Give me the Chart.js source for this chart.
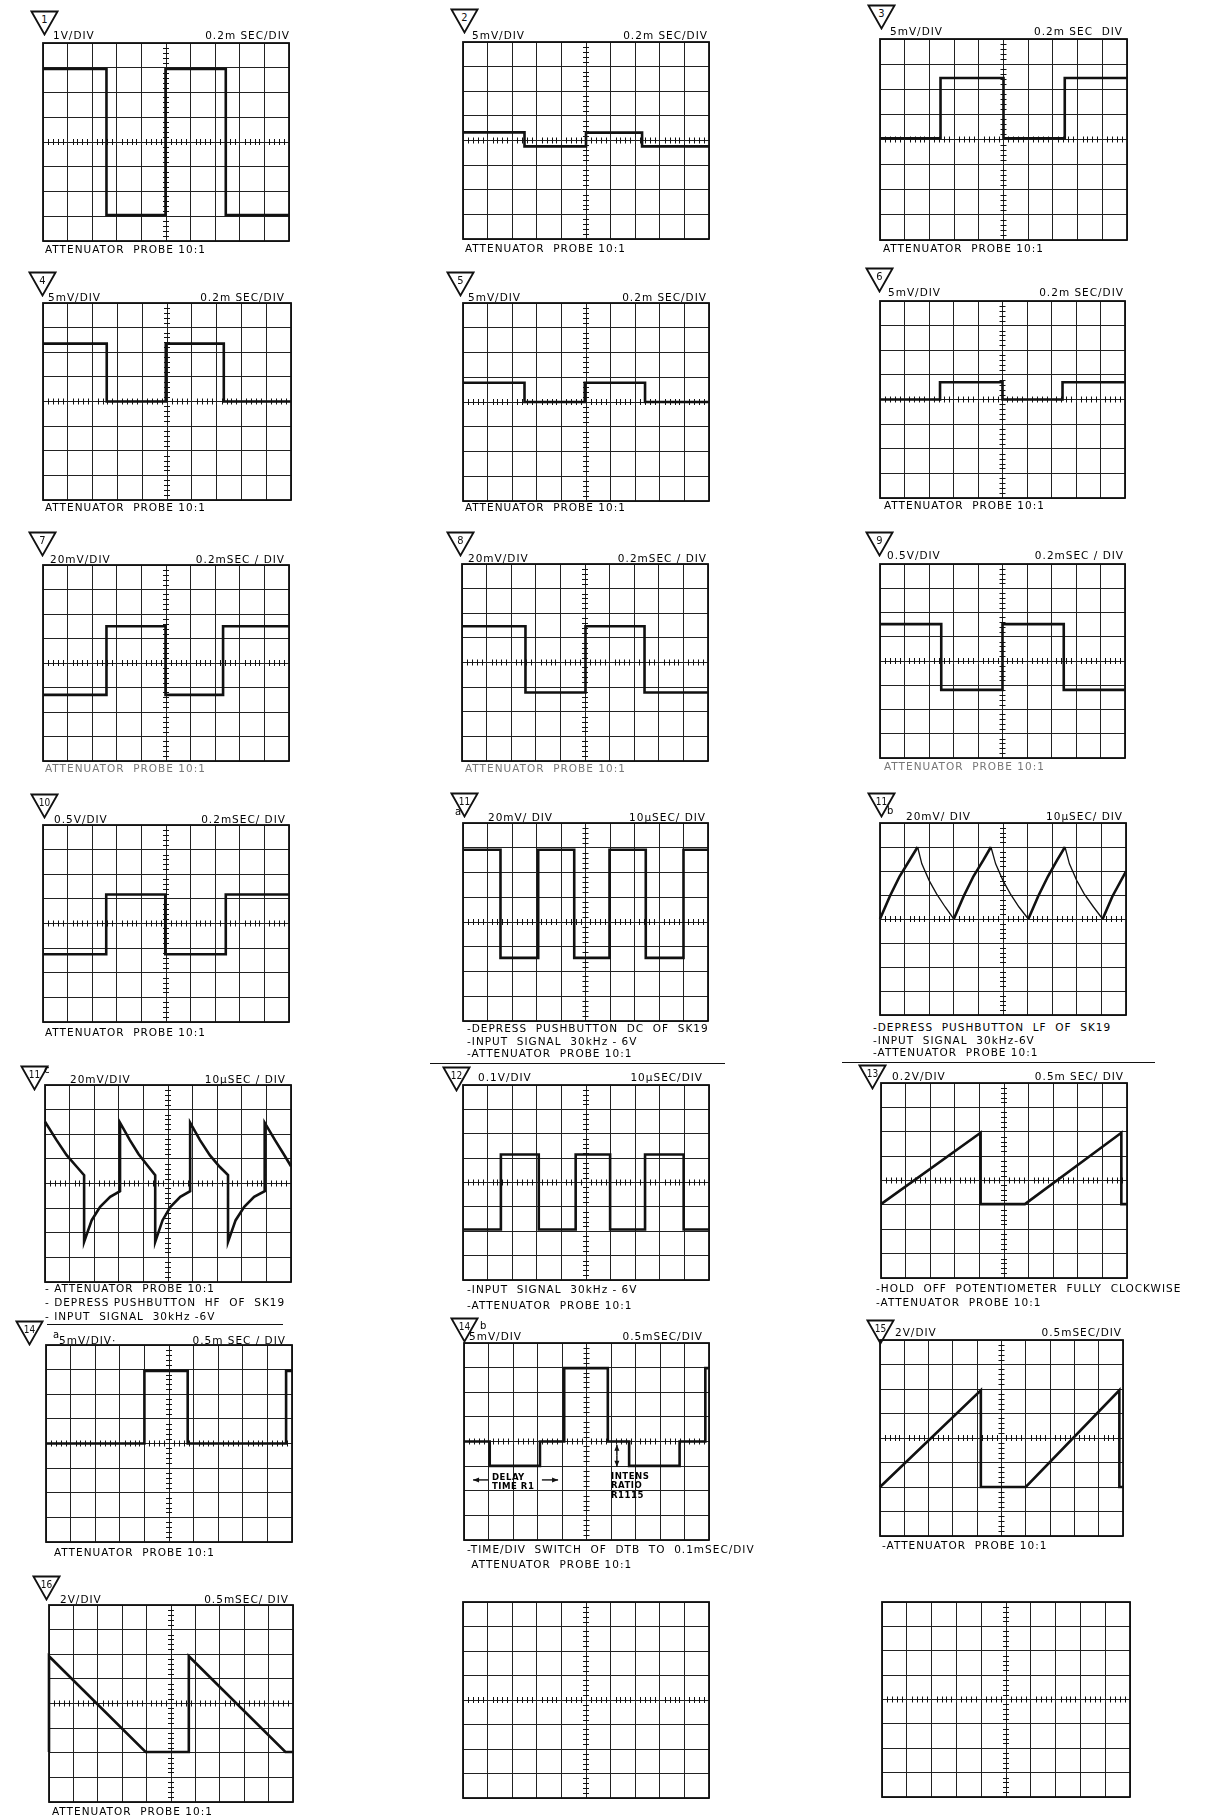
<!DOCTYPE html>
<html>
<head>
<meta charset="utf-8">
<script src="https://cdn.jsdelivr.net/npm/chart.js"></script>
<style>
body { margin: 0; background: #fff; width: 1211px; height: 1816px; position: relative; overflow: hidden;
       font-family: "DejaVu Sans", sans-serif; color: #000; }
.t { position: absolute; white-space: pre; font-size: 10.5px; line-height: 12px; }
.h { letter-spacing: 1px; }
.c { letter-spacing: 1px; }
.fade { color: #777; }
.note { font-family: "DejaVu Sans Condensed", "DejaVu Sans", sans-serif; font-size: 9.5px; line-height: 9px; letter-spacing: 0.5px; font-weight: bold; }
.sub { font-size: 10px; }
canvas { position: absolute; }
svg { position: absolute; }
.rule { position: absolute; height: 0; border-top: 1.4px solid #111; }
</style>
</head>
<body>
<script>
// traces: time in divisions (0..10), voltage in divisions (-4..4)
const p1T = [0, 2.58, 2.58, 4.98, 4.98, 7.43, 7.43, 10];
const p1V = [2.95, 2.95, -2.95, -2.95, 2.95, 2.95, -2.95, -2.95];
const p2T = [0, 2.5, 2.5, 5.0, 5.0, 7.28, 7.28, 10];
const p2V = [0.33, 0.33, -0.24, -0.24, 0.32, 0.32, -0.24, -0.24];
const p3T = [0, 2.45, 2.45, 5.0, 5.0, 7.48, 7.48, 10];
const p3V = [0.05, 0.05, 2.45, 2.45, 0.05, 0.05, 2.45, 2.45];
const p4T = [0, 2.57, 2.57, 4.95, 4.95, 7.29, 7.29, 10];
const p4V = [2.35, 2.35, 0, 0, 2.35, 2.35, 0, 0];
const p5T = [0, 2.5, 2.5, 4.95, 4.95, 7.4, 7.4, 10];
const p5V = [0.78, 0.78, 0, 0, 0.78, 0.78, 0, 0];
const p6T = [0, 2.45, 2.45, 5.0, 5.0, 7.45, 7.45, 10];
const p6V = [0, 0, 0.7, 0.7, 0, 0, 0.7, 0.7];
const p7T = [0, 2.58, 2.58, 4.98, 4.98, 7.32, 7.32, 10];
const p7V = [-1.3, -1.3, 1.5, 1.5, -1.3, -1.3, 1.5, 1.5];
const p8T = [0, 2.58, 2.58, 5.02, 5.02, 7.42, 7.42, 10];
const p8V = [1.47, 1.47, -1.22, -1.22, 1.47, 1.47, -1.22, -1.22];
const p9T = [0, 2.5, 2.5, 5.0, 5.0, 7.5, 7.5, 10];
const p9V = [1.52, 1.52, -1.19, -1.19, 1.52, 1.52, -1.19, -1.19];
const p10T = [0, 2.57, 2.57, 4.97, 4.97, 7.43, 7.43, 10];
const p10V = [-1.25, -1.25, 1.18, 1.18, -1.25, -1.25, 1.18, 1.18];
const p11aT = [0, 1.53, 1.53, 3.07, 3.07, 4.54, 4.54, 5.98, 5.98, 7.46, 7.46, 9.0, 9.0, 10];
const p11aV = [2.92, 2.92, -1.45, -1.45, 2.92, 2.92, -1.45, -1.45, 2.92, 2.92, -1.45, -1.45, 2.92, 2.92];
// 11b: fast charge (thick) and discharge (thin), null breaks the line
const p11bRiseT = [0, 0.4, 0.8, 1.2, 1.53, 1.53, 3.0, 3.4, 3.8, 4.2, 4.51, 4.51, 6.03, 6.43, 6.83, 7.2, 7.52, 7.52, 9.05, 9.45, 10];
const p11bRiseV = [0, 0.95, 1.78, 2.45, 3.0, null, 0, 0.95, 1.78, 2.45, 3.0, null, 0, 0.95, 1.78, 2.45, 3.0, null, 0, 0.95, 1.98];
const p11bFallT = [1.53, 1.7, 2.0, 2.3, 2.65, 3.0, 3.0, 4.51, 4.7, 5.0, 5.3, 5.65, 6.03, 6.03, 7.52, 7.7, 8.0, 8.3, 8.68, 9.05];
const p11bFallV = [3.0, 2.3, 1.6, 1.05, 0.5, 0, null, 3.0, 2.3, 1.6, 1.05, 0.5, 0, null, 3.0, 2.3, 1.6, 1.05, 0.5, 0];
const p11cT = [0, 0.47, 0.88, 1.29, 1.59, 1.59, 1.9, 2.24, 2.65, 3.05, 3.05, 3.45, 3.8, 4.15, 4.48, 4.48, 4.78, 5.1, 5.5, 5.9,
               5.9, 6.3, 6.7, 7.1, 7.44, 7.44, 7.75, 8.1, 8.5, 8.93, 8.93, 9.35, 9.7, 10];
const p11cV = [2.51, 1.76, 1.15, 0.68, 0.34, -2.37, -1.49, -0.95, -0.54, -0.31, 2.47, 1.76, 1.2, 0.75, 0.34, -2.37, -1.49, -0.95, -0.54, -0.31,
               2.47, 1.76, 1.15, 0.68, 0.34, -2.37, -1.49, -0.95, -0.54, -0.31, 2.47, 1.76, 1.2, 0.7];
const p12T = [0, 1.54, 1.54, 3.08, 3.08, 4.58, 4.58, 5.98, 5.98, 7.4, 7.4, 8.97, 8.97, 10];
const p12V = [-1.93, -1.93, 1.15, 1.15, -1.93, -1.93, 1.15, 1.15, -1.93, -1.93, 1.15, 1.15, -1.93, -1.93];
const p13T = [0, 4.05, 4.05, 5.85, 9.77, 9.77, 10];
const p13V = [-0.97, 1.96, -0.97, -0.97, 1.96, -0.97, -0.97];
const p14aT = [0, 4.0, 4.0, 5.76, 5.76, 9.76, 9.76, 10];
const p14aV = [0, 0, 2.95, 2.95, 0, 0, 2.95, 2.95];
const p14bT = [0, 1.05, 1.05, 3.1, 3.1, 4.09, 4.09, 5.87, 5.87, 6.74, 6.74, 8.8, 8.8, 9.85, 9.85, 10];
const p14bV = [0, 0, -0.99, -0.99, 0, 0, 2.98, 2.98, 0, 0, -0.99, -0.99, 0, 0, 2.98, 2.98];
const p15T = [0, 4.15, 4.15, 6.0, 9.85, 9.85, 10];
const p15V = [-2.0, 1.95, -2.0, -2.0, 1.95, -2.0, -2.0];
const p16T = [0, 0, 3.96, 5.73, 5.73, 9.69, 10];
const p16V = [-1.97, 1.92, -1.97, -1.97, 1.92, -1.97, -1.97];

// badge numbers and texts, one per panel (last two panels are empty graticules)
const badgeNums = ['1', '2', '3', '4', '5', '6', '7', '8', '9', '10', '11', '11', '11', '12', '13', '14', '14', '15', '16', '', ''];
const badgeSubs = ['', '', '', '', '', '', '', '', '', '', 'a', 'b', 'c', '', '', 'a', 'b', '', '', '', ''];
const voltsLabels = ['1V/DIV', '5mV/DIV', '5mV/DIV', '5mV/DIV', '5mV/DIV', '5mV/DIV', '20mV/DIV', '20mV/DIV', '0.5V/DIV', '0.5V/DIV',
                     '20mV/ DIV', '20mV/ DIV', '20mV/DIV', '0.1V/DIV', '0.2V/DIV', '5mV/DIV·', '5mV/DIV', '2V/DIV', '2V/DIV', '', ''];
const timeLabels = ['0.2m SEC/DIV', '0.2m SEC/DIV', '0.2m SEC  DIV', '0.2m SEC/DIV', '0.2m SEC/DIV', '0.2m SEC/DIV', '0.2mSEC / DIV',
                    '0.2mSEC / DIV', '0.2mSEC / DIV', '0.2mSEC/ DIV', '10µSEC/ DIV', '10µSEC/ DIV', '10µSEC / DIV', '10µSEC/DIV',
                    '0.5m SEC/ DIV', '0.5m SEC / DIV', '0.5mSEC/DIV', '0.5mSEC/DIV', '0.5mSEC/ DIV', '', ''];
const probe = 'ATTENUATOR  PROBE 10:1';
const captions = [
  [probe], [probe], [probe], [probe], [probe], [probe], [probe], [probe], [probe], [probe],
  ['-DEPRESS  PUSHBUTTON  DC  OF  SK19', '-INPUT  SIGNAL  30kHz - 6V', '-ATTENUATOR  PROBE 10:1'],
  ['-DEPRESS  PUSHBUTTON  LF  OF  SK19', '-INPUT  SIGNAL  30kHz-6V', '-ATTENUATOR  PROBE 10:1'],
  ['- ATTENUATOR  PROBE 10:1', '- DEPRESS PUSHBUTTON  HF  OF  SK19', '- INPUT  SIGNAL  30kHz -6V'],
  ['-INPUT  SIGNAL  30kHz - 6V', '-ATTENUATOR  PROBE 10:1'],
  ['-HOLD  OFF  POTENTIOMETER  FULLY  CLOCKWISE', '-ATTENUATOR  PROBE 10:1'],
  [probe],
  ['-TIME/DIV  SWITCH  OF  DTB  TO  0.1mSEC/DIV', ' ATTENUATOR  PROBE 10:1'],
  ['-ATTENUATOR  PROBE 10:1'], [probe], [], []
];
const traces = [
  [[p1T, p1V]], [[p2T, p2V]], [[p3T, p3V]], [[p4T, p4V]], [[p5T, p5V]], [[p6T, p6V]], [[p7T, p7V]], [[p8T, p8V]], [[p9T, p9V]],
  [[p10T, p10V]], [[p11aT, p11aV]], [[p11bRiseT, p11bRiseV], [p11bFallT, p11bFallV, 1.3]], [[p11cT, p11cV]], [[p12T, p12V]],
  [[p13T, p13V]], [[p14aT, p14aV]], [[p14bT, p14bV]], [[p15T, p15V]], [[p16T, p16V]], [], []
];

// page layout: graticule box [left, top, width, height]
const boxes = [
  [43, 43, 246, 198], [463, 42, 246, 197], [880, 39, 247, 201],
  [43, 303, 248, 197], [463, 303, 246, 198], [880, 301, 245, 197],
  [43, 565, 246, 196], [462, 564, 246, 197], [880, 564, 245, 194],
  [43, 825, 246, 197], [463, 823, 245, 198], [880, 823, 246, 192],
  [45, 1085, 246, 197], [463, 1085, 246, 195], [881, 1083, 246, 195],
  [46, 1345, 246, 197], [464, 1343, 245, 197], [880, 1340, 243, 196],
  [49, 1605, 244, 197], [463, 1602, 246, 196], [882, 1602, 248, 195]
];
// [badge x, badge y, volts x, header centre y, time right edge]
const heads = [
  [30, 10, 53, 35, 289], [450, 8, 472, 35, 707], [867, 4, 890, 31, 1122],
  [28, 271, 48, 297, 284], [446, 271, 468, 297, 706], [865, 267, 888, 292, 1123],
  [28, 531, 50, 559, 284], [446, 531, 468, 558, 706], [865, 531, 887, 555, 1123],
  [30, 793, 54, 819, 285], [450, 792, 488, 817, 705], [867, 792, 906, 816, 1122],
  [20, 1065, 70, 1079, 285], [442, 1066, 478, 1077, 702], [858, 1064, 892, 1076, 1123],
  [15, 1320, 59, 1340, 285], [450, 1317, 469, 1336, 702], [866, 1319, 895, 1332, 1121],
  [32, 1575, 60, 1599, 288], null, null
];
const subPos = { 10: [455, 812], 11: [887, 811], 12: [44, 1070], 15: [53, 1335], 16: [480, 1326] };
// [x, first line centre y, line gap]
const capPos = [
  [45, 249, 0], [465, 248, 0], [883, 248, 0], [45, 507, 0], [465, 507, 0], [884, 505, 0],
  [45, 768, 0], [465, 768, 0], [884, 766, 0], [45, 1032, 0], [467, 1028, 12.5], [873, 1027, 12.5],
  [45, 1288, 14], [467, 1289, 16], [876, 1288, 14], [54, 1552, 0], [467, 1549, 15], [882, 1545, 0], [52, 1811, 0], null, null
];
const rules = [[430, 1063, 725], [842, 1062, 1155], [47, 1324, 283]];

const scopeGrid = {
  id: 'scopeGrid',
  beforeDatasetsDraw(chart, args, opts) {
    const { ctx, chartArea: a, scales: { x, y } } = chart;
    const x0 = x.getPixelForValue(5), y0 = y.getPixelForValue(0);
    ctx.save();
    ctx.strokeStyle = '#111';
    ctx.lineWidth = 1;
    ctx.beginPath();
    for (let i = 1; i < 50; i++) {
      if (i % 5 === 0) continue;
      const px = Math.round(x.getPixelForValue(i / 5)) + 0.5;
      ctx.moveTo(px, y0 - 3); ctx.lineTo(px, y0 + 3);
    }
    for (let j = 1; j < 40; j++) {
      if (j % 5 === 0) continue;
      const py = Math.round(y.getPixelForValue(-4 + j / 5)) + 0.5;
      ctx.moveTo(x0 - 3, py); ctx.lineTo(x0 + 3, py);
    }
    ctx.stroke();
    ctx.lineWidth = 1.8;
    ctx.strokeRect(a.left, a.top, a.right - a.left, a.bottom - a.top);
    // little arrows of panel 14b
    (opts.arrows || []).forEach(ar => {
      const xa = x.getPixelForValue(ar[0]), ya = y.getPixelForValue(ar[1]);
      const xb = x.getPixelForValue(ar[2]), yb = y.getPixelForValue(ar[3]);
      const ang = Math.atan2(yb - ya, xb - xa);
      ctx.lineWidth = 1.4;
      ctx.beginPath(); ctx.moveTo(xa, ya); ctx.lineTo(xb, yb); ctx.stroke();
      ctx.beginPath();
      ctx.moveTo(xb, yb);
      ctx.lineTo(xb - 6 * Math.cos(ang) + 2.5 * Math.sin(ang), yb - 6 * Math.sin(ang) - 2.5 * Math.cos(ang));
      ctx.lineTo(xb - 6 * Math.cos(ang) - 2.5 * Math.sin(ang), yb - 6 * Math.sin(ang) + 2.5 * Math.cos(ang));
      ctx.closePath(); ctx.fillStyle = '#111'; ctx.fill();
    });
    ctx.restore();
  }
};

function txt(s, x, cy, cls, right) {
  const d = document.createElement('div');
  d.className = 't ' + cls;
  d.textContent = s;
  d.style.top = (cy - 6) + 'px';
  if (right) d.style.right = (1211 - x - 1) + 'px'; else d.style.left = x + 'px';
  document.body.appendChild(d);
}

function badge(num, x, y) {
  const small = num.length > 1;
  const s = document.createElementNS('http://www.w3.org/2000/svg', 'svg');
  s.setAttribute('width', 29); s.setAttribute('height', 26);
  s.style.left = x + 'px'; s.style.top = y + 'px';
  s.innerHTML = '<polygon points="1.5,1.5 27.5,1.5 14.5,24.5" fill="none" stroke="#111" stroke-width="1.8"/>' +
    '<text x="14.5" y="12.5" text-anchor="middle" font-size="' + (small ? 10 : 11) + '" font-family="DejaVu Sans Condensed, DejaVu Sans" fill="#111">' + num + '</text>';
  document.body.appendChild(s);
}

function scope(i, arrows) {
  const [l, t, w, h] = boxes[i];
  const pad = 5;
  const cv = document.createElement('canvas');
  cv.width = w + 2 * pad; cv.height = h + 2 * pad;
  cv.style.left = (l - pad) + 'px'; cv.style.top = (t - pad) + 'px';
  document.body.appendChild(cv);
  const datasets = traces[i].map(tr => ({
    data: tr[0].map((xv, k) => ({ x: xv, y: tr[1][k] })),
    borderColor: '#111',
    borderWidth: tr[2] || 2.6,
    pointRadius: 0,
    tension: 0,
    spanGaps: false,
    fill: false,
    clip: pad
  }));
  const axis = (min, max) => ({
    type: 'linear', min: min, max: max,
    ticks: { display: false, stepSize: 1 },
    grid: { color: '#222', lineWidth: 1, drawTicks: false },
    border: { display: false }
  });
  new Chart(cv, {
    type: 'line',
    data: { datasets: datasets },
    options: {
      responsive: false,
      animation: false,
      events: [],
      layout: { padding: pad },
      plugins: { legend: { display: false }, tooltip: { enabled: false }, scopeGrid: { arrows: arrows || [] } },
      scales: { x: axis(0, 10), y: axis(-4, 4) }
    },
    plugins: [scopeGrid]
  });
}

boxes.forEach((b, i) => {
  scope(i, i === 16 ? [[0.98, -1.56, 0.37, -1.56], [3.18, -1.56, 3.84, -1.56], [6.24, -0.58, 6.24, -0.13], [6.24, -0.58, 6.24, -1.03]] : null);
  const hd = heads[i];
  if (hd) {
    badge(badgeNums[i], hd[0], hd[1]);
    txt(voltsLabels[i], hd[2], hd[3], 'h');
    txt(timeLabels[i], hd[4], hd[3], 'h', true);
  }
  if (badgeSubs[i]) txt(badgeSubs[i], subPos[i][0], subPos[i][1], 'sub');
  const cp = capPos[i];
  if (cp) captions[i].forEach((c, k) => txt(c, cp[0], cp[1] + k * cp[2], (i >= 6 && i <= 8) ? 'c fade' : 'c'));
});

// notes inside panel 14b
txt('DELAY', 492, 1478, 'note');
txt('TIME R1', 492, 1487, 'note');
txt('INTENS', 611, 1477, 'note');
txt('RATIO', 611, 1486, 'note');
txt('R1115', 611, 1496, 'note');

rules.forEach(r => {
  const d = document.createElement('div');
  d.className = 'rule';
  d.style.left = r[0] + 'px'; d.style.top = r[1] + 'px'; d.style.width = (r[2] - r[0]) + 'px';
  document.body.appendChild(d);
});
</script>
</body>
</html>
